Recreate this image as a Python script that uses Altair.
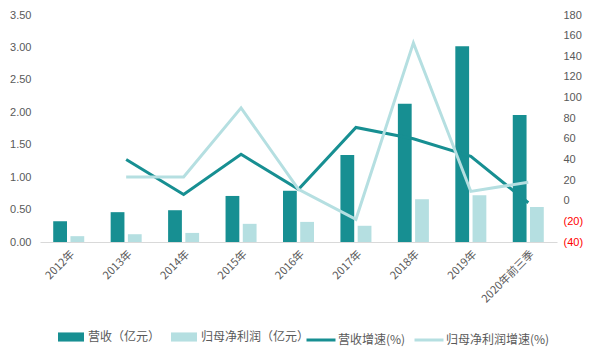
import altair as alt
import pandas as pd

categories = ["2012年", "2013年", "2014年", "2015年", "2016年", "2017年", "2018年", "2019年", "2020年前三季"]
revenue = [0.32, 0.46, 0.49, 0.71, 0.79, 1.34, 2.13, 3.02, 1.96]
net_profit = [0.09, 0.12, 0.14, 0.28, 0.31, 0.25, 0.66, 0.72, 0.54]
revenue_growth = [None, 40, 6, 45, 11, 71, 60, 43, -2]
profit_growth = [None, 23, 23, 90, 11, -18, 153, 9, 18]

bar_series = ["营收（亿元）", "归母净利润（亿元）"]
line_series = ["营收增速(%)", "归母净利润增速(%)"]
dark = "#178F92"
light = "#B5DFE1"

bars = pd.DataFrame({
    "cat": categories * 2,
    "series": [bar_series[0]] * len(categories) + [bar_series[1]] * len(categories),
    "value": revenue + net_profit,
})
lines = pd.DataFrame({
    "cat": categories * 2,
    "series": [line_series[0]] * len(categories) + [line_series[1]] * len(categories),
    "value": revenue_growth + profit_growth,
})

num_font = "Liberation Sans"
cjk_font = "Noto Sans CJK SC"
grey = "#595959"

x_enc = alt.X(
    "cat:N", sort=categories, title=None,
    scale=alt.Scale(paddingInner=0.46, paddingOuter=0.23),
    axis=alt.Axis(labelAngle=-45, labelFont=cjk_font, labelFontSize=11, labelColor=grey,
                  ticks=False, domainColor="#D9D9D9", labelPadding=6, labelLimit=200),
)

bar_layer = alt.Chart(bars).mark_bar().encode(
    x=x_enc,
    xOffset=alt.XOffset("series:N", sort=bar_series, scale=alt.Scale(paddingInner=0.2, paddingOuter=0)),
    y=alt.Y("value:Q", title=None,
            scale=alt.Scale(domain=[0, 3.5], nice=False),
            axis=alt.Axis(values=[0, 0.5, 1, 1.5, 2, 2.5, 3, 3.5], format=".2f", grid=False,
                          domain=False, ticks=False, labelFont=num_font, labelFontSize=11,
                          labelColor=grey, labelPadding=9, orient="left")),
    fill=alt.Fill("series:N", sort=bar_series,
                  scale=alt.Scale(domain=bar_series, range=[dark, light]),
                  legend=alt.Legend(orient="none", legendX=18, legendY=309, direction="horizontal",
                                    title=None, symbolType="M-1,-0.35H1V0.35H-1Z", symbolSize=676,
                                    symbolStrokeWidth=0, labelFont=cjk_font, labelFontSize=12,
                                    labelColor=grey, labelOffset=4, columnPadding=10,
                                    labelLimit=300, padding=0)),
)

line_layer = alt.Chart(lines).mark_line(strokeWidth=3).encode(
    x=alt.X("cat:N", sort=categories),
    y=alt.Y("value:Q", title=None,
            scale=alt.Scale(domain=[-40, 180], nice=False),
            axis=alt.Axis(values=list(range(-40, 181, 20)), grid=False, domain=False, ticks=False,
                          orient="right", labelFont=num_font, labelFontSize=11, labelPadding=6,
                          labelExpr="datum.value < 0 ? '(' + abs(datum.value) + ')' : datum.value",
                          labelColor=alt.condition("datum.value < 0", alt.value("#FF0000"), alt.value(grey)))),
    stroke=alt.Stroke("series:N", sort=line_series,
                      scale=alt.Scale(domain=line_series, range=[dark, light]),
                      legend=alt.Legend(orient="none", legendX=265, legendY=309, direction="horizontal",
                                        title=None, symbolType="stroke", symbolSize=841,
                                        symbolStrokeWidth=3, labelFont=cjk_font, labelFontSize=12,
                                        labelColor=grey, labelOffset=1, columnPadding=2,
                                        labelLimit=300, padding=0)),
    detail="series:N",
)

chart = alt.layer(bar_layer, line_layer).resolve_scale(
    y="independent", fill="independent", stroke="independent"
).properties(
    width=517, height=227,
    autosize=alt.AutoSizeParams(type="none"),
    padding={"left": 40, "top": 15, "right": 37, "bottom": 112},
    background="white",
).configure_view(stroke=None)

chart.save("out.html", embed_options={"renderer": "svg", "actions": False})
